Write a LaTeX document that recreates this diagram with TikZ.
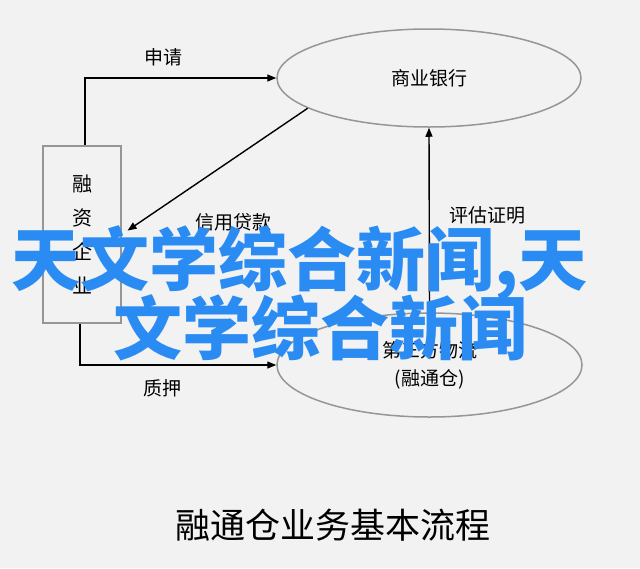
\documentclass[tikz,border=0pt]{standalone}
\usepackage{fontspec}
\setmainfont{Noto Sans CJK SC}
\usepackage{tikz}
\usetikzlibrary{shapes,arrows.meta}
\definecolor{bggray}{RGB}{242,242,243}
\definecolor{boxgray}{RGB}{150,150,150}
\definecolor{wmblue}{RGB}{42,140,242}

\begin{document}
\begin{tikzpicture}[x=1pt,y=-1pt]
    \tikzstyle{box} = [draw=boxgray, line width=1.5pt, inner sep=0pt]
    \tikzstyle{oval} = [box, ellipse]
    \tikzstyle{dedge} = [line width=1.4pt,->,>={Triangle[length=9pt,width=7pt]},draw=black]
    \tikzstyle{lbl} = [font=\fontsize{19}{19}\selectfont, inner sep=0pt]
    \tikzstyle{wm} = [text=wmblue, font=\fontsize{69}{69}\selectfont\bfseries, inner sep=0pt, anchor=base west]

    \fill[bggray] (0,0) rectangle (640,568);

    \node[box, minimum width=78pt, minimum height=177pt, align=center, font=\fontsize{20}{34}\selectfont] (firm) at (82,234.5) {融\\资\\企\\业};
    \node[oval, lbl, minimum width=304pt, minimum height=98pt] (bank) at (429,78) {商业银行};
    \node[oval, minimum width=305pt, minimum height=104pt, align=center, font=\fontsize{19}{28}\selectfont] (logi) at (429.5,365) {第三方物流\\(融通仓)};

    \node[lbl] (apply) at (163,57) {申请};
    \node[lbl] (loan) at (233,222) {信用贷款};
    \node[lbl] (assess) at (487,215) {评估证明};
    \node[lbl] (pledge) at (162,388) {质押};
    \node[font=\fontsize{35}{35}\selectfont] (title) at (333,525) {融通仓业务基本流程};

    \draw[dedge] ([xshift=3pt]firm.north) |- (bank.west);
    \draw[dedge] ([xshift=-2pt]firm.south) |- (logi.west);
    \draw[dedge, shorten >=7pt] (bank.194) -- (firm.east);
    \draw[dedge] (logi.north) -- (bank.south);

    \node[wm] (wmA) at (11,285) {天文学综合新闻,天};
    \node[wm] (wmB) at (113,354) {文学综合新闻};
\end{tikzpicture}
\end{document}
